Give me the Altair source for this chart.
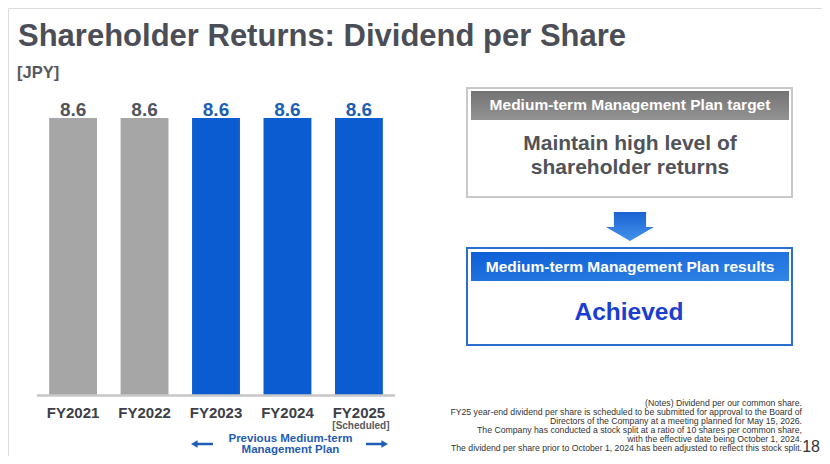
import altair as alt
import pandas as pd

# bar data
years = ["FY2021", "FY2022", "FY2023", "FY2024", "FY2025"]
dividends = [8.6, 8.6, 8.6, 8.6, 8.6]
plan_period = ["before", "before", "previous", "previous", "previous"]

# text on the slide
title_text = "Shareholder Returns: Dividend per Share"
unit_text = "[JPY]"
scheduled_text = "[Scheduled]"
plan_label = "Previous Medium-term\nManagement Plan"
target_header = "Medium-term Management Plan target"
target_body = "Maintain high level of\nshareholder returns"
results_header = "Medium-term Management Plan results"
results_body = "Achieved"
notes = [
    "(Notes) Dividend per our common share.",
    "FY25 year-end dividend per share is scheduled to be submitted for approval to the Board of",
    "Directors of the Company at a meeting planned for May 15, 2026.",
    "The Company has conducted a stock split at a ratio of 10 shares per common share,",
    "with the effective date being October 1, 2024.",
    "The dividend per share prior to October 1, 2024 has been adjusted to reflect this stock split.",
]
page_number = "18"

FONT = "Liberation Sans"
GREY_BAR = "#a6a6a6"
BLUE_BAR = "#0b5bd1"

bars = pd.DataFrame(
    {
        "year": years,
        "dividend": dividends,
        "period": plan_period,
        "label_color": ["#50545b" if p == "before" else "#1b5fb4" for p in plan_period],
    }
)

x_enc = alt.X(
    "year:N",
    sort=years,
    axis=None,
    scale=alt.Scale(range=[29, 387], paddingInner=0.33, paddingOuter=0.17),
)
y_enc = alt.Y(
    "dividend:Q",
    axis=None,
    scale=alt.Scale(domain=[0, 8.6], range=[387, 110], nice=False),
)

base = alt.Chart(bars)

bar_layer = base.mark_bar().encode(
    x=x_enc,
    y=y_enc,
    color=alt.Color(
        "period:N",
        scale=alt.Scale(domain=["before", "previous"], range=[GREY_BAR, BLUE_BAR]),
        legend=None,
    ),
)

value_labels = base.mark_text(
    font=FONT, fontSize=19, fontWeight="bold", baseline="alphabetic", dy=-2
).encode(
    x=x_enc,
    y=y_enc,
    text=alt.Text("dividend:Q", format=".1f"),
    color=alt.Color("label_color:N", scale=None),
)

year_labels = base.mark_text(
    font=FONT, fontSize=15, fontWeight="bold", baseline="alphabetic", color="#3d4047"
).encode(x=x_enc, y=alt.value(410), text="year:N")

baseline_rule = base.mark_rule(color="#c8c8c8", strokeWidth=1.5).encode(
    x=alt.value(29), x2=alt.value(387), y=alt.value(387.5)
)

scheduled = alt.Chart(pd.DataFrame({"year": ["FY2025"], "t": [scheduled_text]})).mark_text(
    font=FONT, fontSize=10, fontWeight="bold", color="#555a60", dx=2
).encode(x=x_enc, y=alt.value(418), text="t:N")

# first line sits at y, the second one lineHeight below
plan_text = alt.Chart(pd.DataFrame({"year": ["FY2024"], "t": [plan_label]})).mark_text(
    font=FONT,
    fontSize=11.5,
    fontWeight="bold",
    color="#1f5cb3",
    lineBreak="\n",
    lineHeight=11,
    dx=3,
).encode(x=x_enc, y=alt.value(431), text="t:N")

left_arrow = "M-1,0 L-0.4,-0.34 L-0.4,-0.11 L1,-0.11 L1,0.11 L-0.4,0.11 L-0.4,0.34 Z"
right_arrow = "M1,0 L0.4,-0.34 L0.4,-0.11 L-1,-0.11 L-1,0.11 L0.4,0.11 L0.4,0.34 Z"
arrow_df = pd.DataFrame({"a": [0]})
plan_arrows = [
    alt.Chart(arrow_df)
    .mark_point(shape=shape, filled=True, fill="#1f5cb3", strokeWidth=0, size=484, opacity=1)
    .encode(x=alt.value(px), y=alt.value(436))
    for shape, px in [(left_arrow, 194), (right_arrow, 369)]
]

title = alt.Chart(pd.DataFrame({"t": [title_text]})).mark_text(
    font=FONT, fontSize=31, fontWeight="bold", color="#4b4e56", align="left", baseline="alphabetic"
).encode(x=alt.value(10), y=alt.value(38), text="t:N")

unit = alt.Chart(pd.DataFrame({"t": [unit_text]})).mark_text(
    font=FONT, fontSize=16.5, fontWeight="bold", color="#55585e", align="left"
).encode(x=alt.value(9), y=alt.value(65), text="t:N")

# right-hand panel
one = pd.DataFrame({"a": [0]})


def box(x0, x1, y0, y1, **mark):
    return alt.Chart(one).mark_rect(**mark).encode(
        x=alt.value(x0), x2=alt.value(x1), y=alt.value(y0), y2=alt.value(y1)
    )


def label(text, x, y, **mark):
    return alt.Chart(pd.DataFrame({"t": [text]})).mark_text(font=FONT, fontWeight="bold", **mark).encode(
        x=alt.value(x), y=alt.value(y), text="t:N"
    )


def gradient(c0, c1, horizontal=False):
    return {
        "gradient": "linear",
        "stops": [{"color": c0, "offset": 0}, {"color": c1, "offset": 1}],
        "x1": 0, "y1": 0, "x2": 1 if horizontal else 0, "y2": 1,
    }


target_box = box(459, 784, 80, 189, fill="white", stroke="#c9c9c9", strokeWidth=2)
target_head = box(463, 781, 83, 112, fill=gradient("#737373", "#939393"))
target_head_txt = label(target_header, 622, 97, fontSize=15.5, color="white")
target_body_txt = label(target_body, 622, 136, fontSize=21, color="#505359", lineBreak="\n", lineHeight=24)

down_arrow = alt.Chart(one).mark_point(
    shape="M-0.67,-0.6 L0.67,-0.6 L0.67,0.02 L1,0.02 L0,0.6 L-1,0.02 L-0.67,0.02 Z",
    filled=True,
    fill=gradient("#1a62d4", "#4393ea"),
    strokeWidth=0,
    size=2304,
    opacity=1,
).encode(x=alt.value(622), y=alt.value(218.5))

results_box = box(459, 784, 240, 337, fill="white", stroke="#2a6fd0", strokeWidth=2)
results_head = box(463, 781, 244, 273, fill=gradient("#0d5ed6", "#3186e6", horizontal=True))
results_head_txt = label(results_header, 622, 259, fontSize=15.5, color="white")
results_body_txt = label(results_body, 621, 305, fontSize=24.5, color="#1a3ecf")

notes_txt = alt.Chart(pd.DataFrame({"t": ["\n".join(notes)]})).mark_text(
    font=FONT, fontSize=8.7, color="#333333", align="right", baseline="top", lineBreak="\n", lineHeight=9
).encode(x=alt.value(794), y=alt.value(391), text="t:N")

page_txt = alt.Chart(pd.DataFrame({"t": [page_number]})).mark_text(
    font=FONT, fontSize=16, color="#333333", align="right"
).encode(x=alt.value(812), y=alt.value(439), text="t:N")

chart = (
    alt.layer(
        bar_layer,
        baseline_rule,
        value_labels,
        year_labels,
        scheduled,
        plan_text,
        *plan_arrows,
        title,
        unit,
        target_box,
        target_head,
        target_head_txt,
        target_body_txt,
        down_arrow,
        results_box,
        results_head,
        results_head_txt,
        results_body_txt,
        notes_txt,
        page_txt,
    )
    .properties(width=814, height=448, autosize=alt.AutoSizeParams(type="none"), padding=0)
    .configure_view(stroke=None)
    .configure(background="white")
)

chart.save("out.html", embed_options={"renderer": "svg", "actions": False})
